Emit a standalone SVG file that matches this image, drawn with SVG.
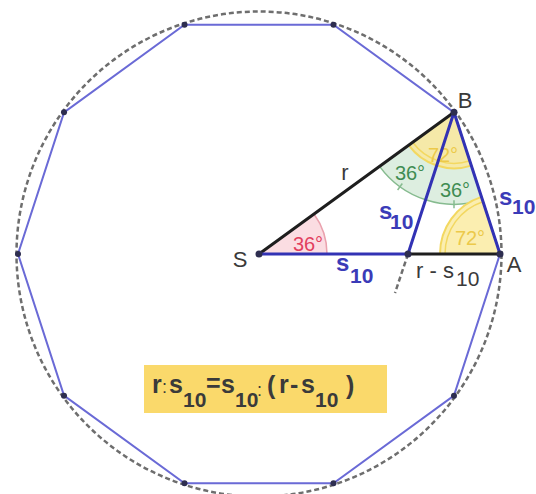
<svg xmlns="http://www.w3.org/2000/svg" width="536" height="494" viewBox="0 0 536 494">
<style>
text{font-family:"Liberation Sans",Arial,sans-serif}
.lbl{font-size:22px;fill:#3a3a3a}
.blue{fill:#3b3bb8;font-weight:bold}
.sb{font-size:24px}
.sub{font-size:21px}
.dash{fill:none;stroke:#6e6e6e;stroke-width:2.5;stroke-dasharray:5 3}
.poly{fill:none;stroke:#6a6ad6;stroke-width:2}
.tri{stroke:#3232b4;stroke-width:3;stroke-linecap:round}
.blk{stroke:#1e1e1e;stroke-width:3;stroke-linecap:round}
.pt{fill:#2e2e50}
.ang{font-size:20px}
.f{font-size:25px;fill:#3a3a3a;font-weight:bold}
.fs{font-size:21px;fill:#3a3a3a;font-weight:bold}
.fc{font-size:18px;fill:#3a3a3a}
</style>
<rect width="536" height="494" fill="#ffffff"/>
<g id="circle">
<circle cx="259" cy="254" r="242.5" class="dash"/>
</g>
<g id="decagon">
<polygon class="poly" points="500,254 453.97,112.34 333.47,24.79 184.53,24.79 64.03,112.34 18,254 64.03,395.66 184.53,483.21 333.47,483.21 453.97,395.66"/>
<g class="pt">
<circle cx="333.47" cy="24.79" r="3"/><circle cx="184.53" cy="24.79" r="3"/><circle cx="64.03" cy="112.34" r="3"/><circle cx="18" cy="254" r="3"/><circle cx="64.03" cy="395.66" r="3"/><circle cx="184.53" cy="483.21" r="3"/><circle cx="333.47" cy="483.21" r="3"/><circle cx="453.97" cy="395.66" r="3"/>
</g>
</g>
<g id="angle-S">
<path d="M259,254 L327,254 A68,68 0 0 0 314,214 Z" fill="#fbdde2" stroke="none"/>
<path d="M327,254 A68,68 0 0 0 314,214" fill="none" stroke="#eaa2ae" stroke-width="1.5"/>
<text x="308" y="251" text-anchor="middle" class="ang" fill="#e2405e">36°</text>
</g>
<g id="angle-B-green">
<path d="M454,112.3 L379.6,166.4 A92,92 0 0 0 482.4,199.8 Z" fill="#ddeee0" stroke="none"/>
<path d="M379.6,166.4 A92,92 0 0 0 482.4,199.8" fill="none" stroke="#86bb8f" stroke-width="1.5"/>
<line x1="402.3" y1="183.5" x2="397.6" y2="190" stroke="#86bb8f" stroke-width="1.5"/>
<line x1="454" y1="200.3" x2="454" y2="208.3" stroke="#86bb8f" stroke-width="1.5"/>
</g>
<g id="angle-B-yellow">
<path d="M454,112.3 L408.7,145.2 A56,56 0 0 0 471.3,165.6 Z" fill="#f5e9a8" stroke="none"/>
<path d="M408.7,145.2 A56,56 0 0 0 471.3,165.6" fill="none" stroke="#f3d860" stroke-width="2"/>
<path d="M412.7,142.3 A51,51 0 0 0 469.8,160.8" fill="none" stroke="#f3d860" stroke-width="1.5"/>
<text x="443" y="162" text-anchor="middle" class="ang" fill="#ecc94a">72°</text>
</g>
<g id="angle-A">
<path d="M500,254 L440,254 A60,60 0 0 1 481.5,196.9 Z" fill="#fbeeb0" stroke="none"/>
<path d="M440,254 A60,60 0 0 1 481.5,196.9" fill="none" stroke="#f3d860" stroke-width="2"/>
<path d="M445,254 A55,55 0 0 1 483,201.7" fill="none" stroke="#f3d860" stroke-width="1.5"/>
<text x="470" y="245" text-anchor="middle" class="ang" fill="#ecc94a">72°</text>
</g>
<g id="connectors">
<line x1="408" y1="254" x2="395" y2="293" class="dash"/>
<line x1="259" y1="254" x2="454" y2="112.3" class="blk"/>
<line x1="408" y1="254" x2="500" y2="254" class="blk"/>
<line x1="259" y1="254" x2="408" y2="254" class="tri"/>
<line x1="408" y1="254" x2="454" y2="112.3" class="tri"/>
<line x1="454" y1="112.3" x2="500" y2="254" class="tri"/>
</g>
<g id="green-labels">
<text x="410" y="180" text-anchor="middle" class="ang" fill="#3f8c52">36°</text>
<text x="455" y="197" text-anchor="middle" class="ang" fill="#3f8c52">36°</text>
</g>
<g id="node-S">
<circle cx="259" cy="254" r="3.5" class="pt"/>
<text x="240" y="267" text-anchor="middle" class="lbl">S</text>
</g>
<g id="node-A">
<circle cx="500" cy="254" r="3.5" class="pt"/>
<text x="514" y="272" text-anchor="middle" class="lbl">A</text>
</g>
<g id="node-B">
<circle cx="454" cy="112.3" r="3.5" class="pt"/>
<text x="465" y="108" text-anchor="middle" class="lbl">B</text>
</g>
<g id="node-D">
<circle cx="408" cy="254" r="3.5" class="pt"/>
</g>
<g id="edge-labels">
<text x="345" y="180" text-anchor="middle" class="lbl" fill="#1e1e1e">r</text>
<text x="379" y="219" class="blue sb">s</text><text x="390" y="229" class="blue sub">10</text>
<text x="499" y="205" class="blue sb">s</text><text x="512" y="214" class="blue sub">10</text>
<text x="336" y="271" class="blue sb">s</text><text x="350" y="283" class="blue sub">10</text>
<text x="416" y="278" class="lbl">r - s</text><text x="456" y="286" font-size="21" fill="#3a3a3a">10</text>
</g>
<g id="formula">
<rect x="144" y="365" width="243" height="48" fill="#fad96b"/>
<text x="152" y="393" class="f">r</text>
<text x="162" y="393" class="fc">:</text>
<text x="169" y="393" class="f">s</text>
<text x="183" y="407" class="fs">10</text>
<text x="206" y="392" class="f">=</text>
<text x="221" y="393" class="f">s</text>
<text x="235" y="407" class="fs">10</text>
<text x="257" y="396" class="fc">:</text>
<text x="267" y="394" class="f">(</text>
<text x="279" y="393" class="f">r</text>
<text x="290" y="393" class="f">-</text>
<text x="301" y="393" class="f">s</text>
<text x="315" y="407" class="fs">10</text>
<text x="346" y="394" class="f">)</text>
</g>
</svg>
